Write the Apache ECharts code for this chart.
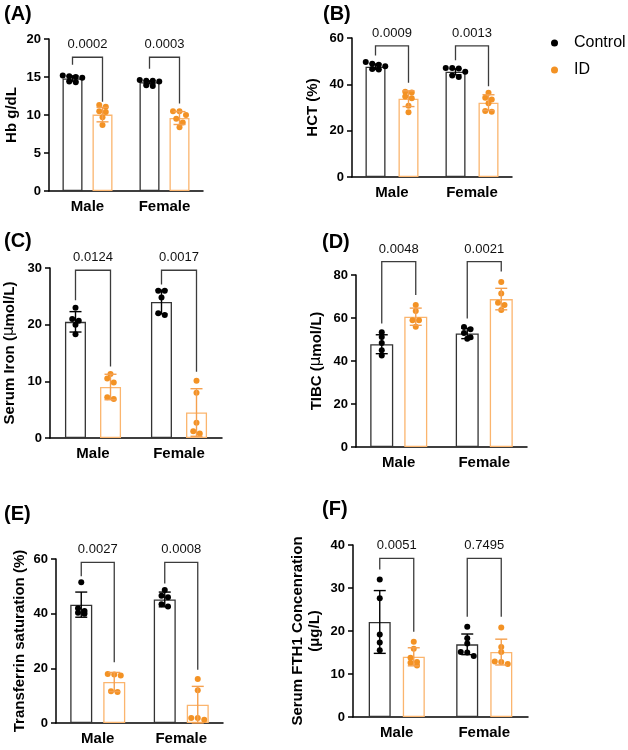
<!DOCTYPE html>
<html>
<head>
<meta charset="utf-8">
<script src="https://cdn.jsdelivr.net/npm/echarts@6/dist/echarts.min.js"></script>
<style>
  html, body { margin: 0; padding: 0; background: #fff; }
  #chart { width: 628px; height: 750px; }
</style>
</head>
<body>
<div id="chart"></div>
<script>
const groups = ["Male", "Female"];

// (A) Hb
const hbCtrlPts = [[15.2, 15.1, 15.0, 14.9, 14.4, 14.3], [14.6, 14.5, 14.5, 14.4, 13.9, 13.8]];
const hbIdPts = [[11.3, 11.1, 10.5, 10.4, 9.7, 8.7], [10.5, 10.5, 10.0, 9.5, 9.0, 8.4]];
const hbCtrlMean = [14.8, 14.3];
const hbCtrlSd = [0.35, 0.2];
const hbIdMean = [10.05, 9.6];
const hbIdSd = [0.95, 0.85];
const hbP = ["0.0002", "0.0003"];
const hbBracket = [[17.6, 16.6, 11.75], [17.6, 16.1, 11.5]];

// (B) HCT
const hctCtrlPts = [[49.6, 48.9, 48.5, 47.8, 46.6, 46.4], [47.0, 47.0, 46.8, 45.4, 43.8, 43.2]];
const hctIdPts = [[36.8, 36.5, 34.8, 34.0, 30.8, 28.0], [36.4, 34.2, 33.5, 31.8, 28.5, 28.2]];
const hctCtrlMean = [47.6, 45.4];
const hctCtrlSd = [1.2, 1.3];
const hctIdMean = [33.8, 32.1];
const hctIdSd = [3.4, 3.4];
const hctP = ["0.0009", "0.0013"];
const hctBracket = [[56.6, 52.5, 40.7], [56.6, 50.4, 39.2]];

// (C) Serum iron
const ironCtrlPts = [[23.0, 21.0, 20.7, 20.0, 18.3], [26.0, 26.0, 24.8, 22.0, 21.7]];
const ironIdPts = [[11.3, 10.5, 9.8, 7.2, 6.9], [10.1, 8.0, 2.7, 1.2, 0.8]];
const ironCtrlMean = [20.5, 24.0];
const ironCtrlSd = [1.8, 2.1];
const ironIdMean = [9.0, 4.5];
const ironIdSd = [2.25, 4.2];
const ironP = ["0.0124", "0.0017"];
const ironBracket = [[29.6, 24.3, 12.6], [29.6, 27.1, 11.7]];

// (D) TIBC
const tibcCtrlPts = [[53.4, 51.2, 48.4, 45.0, 42.6], [55.8, 54.8, 53.0, 51.0, 50.3]];
const tibcIdPts = [[66.0, 63.3, 59.0, 59.0, 55.9], [76.7, 71.4, 67.1, 66.1, 63.7]];
const tibcCtrlMean = [47.8, 52.8];
const tibcCtrlSd = [4.4, 2.4];
const tibcIdMean = [60.6, 68.8];
const tibcIdSd = [4.0, 5.0];
const tibcP = ["0.0048", "0.0021"];
const tibcBracket = [[86.2, 57.4, 70.7], [86.2, 59.8, 81.6]];

// (E) Transferrin saturation
const tsatCtrlPts = [[51.5, 42.0, 41.0, 40.3, 40.0], [48.7, 46.6, 46.0, 43.4, 42.6]];
const tsatIdPts = [[17.9, 17.7, 17.4, 11.6, 11.3], [16.1, 12.0, 1.8, 1.8, 1.2]];
const tsatCtrlMean = [43.3, 45.2];
const tsatCtrlSd = [4.6, 2.7];
const tsatIdMean = [15.0, 6.7];
const tsatIdSd = [3.5, 6.7];
const tsatP = ["0.0027", "0.0008"];
const tsatBracket = [[58.8, 53.7, 22.2], [58.8, 51.0, 19.5]];

// (F) Serum FTH1
const fthCtrlPts = [[32.0, 27.6, 19.2, 17.3, 15.5], [21.0, 18.3, 17.1, 15.1, 15.0, 14.2]];
const fthIdPts = [[17.5, 15.9, 13.8, 12.8, 12.6, 12.0], [20.8, 16.3, 15.1, 12.9, 12.8, 12.3]];
const fthCtrlMean = [22.1, 16.9];
const fthCtrlSd = [7.3, 2.4];
const fthIdMean = [14.0, 15.1];
const fthIdSd = [2.1, 3.0];
const fthP = ["0.0051", "0.7495"];
const fthBracket = [[36.9, 34.3, 19.8], [36.9, 23.3, 23.3]];

const FONT = "'Liberation Sans', Arial, sans-serif";
const ORANGE = "#F39224";
const ORANGE_ERR = "#F5A04E";
const ORANGE_BAR = "#FBB56E";
const BRACKET = "#3c3c3c";
const DOT_R = 3;
const DOT_STEP = 6.5;
const DOT_ROW = 4.5;

const panels = [
  { label: "(A)", lx: 4, ly: 4, grid: { left: 49, top: 39, width: 154, height: 152 }, max: 20, interval: 5,
    name: "Hb g/dL", nameGap: 29, bw: 20, gap: 10,
    ctrlPts: hbCtrlPts, idPts: hbIdPts, ctrlMean: hbCtrlMean, ctrlSd: hbCtrlSd,
    idMean: hbIdMean, idSd: hbIdSd, p: hbP, bracket: hbBracket },
  { label: "(B)", lx: 323, ly: 4, grid: { left: 352, top: 38, width: 160, height: 139 }, max: 60, interval: 20,
    name: "HCT (%)", nameGap: 31, bw: 20, gap: 13,
    ctrlPts: hctCtrlPts, idPts: hctIdPts, ctrlMean: hctCtrlMean, ctrlSd: hctCtrlSd,
    idMean: hctIdMean, idSd: hctIdSd, p: hctP, bracket: hctBracket },
  { label: "(C)", lx: 4, ly: 231, grid: { left: 50, top: 268, width: 172, height: 170 }, max: 30, interval: 10,
    name: "Serum Iron ({mu|μ}mol/L)", nameGap: 32, bw: 21, gap: 14,
    ctrlPts: ironCtrlPts, idPts: ironIdPts, ctrlMean: ironCtrlMean, ctrlSd: ironCtrlSd,
    idMean: ironIdMean, idSd: ironIdSd, p: ironP, bracket: ironBracket },
  { label: "(D)", lx: 322, ly: 232, grid: { left: 356, top: 275, width: 171, height: 172 }, max: 80, interval: 20,
    name: "TIBC ({mu|μ}mol/L)", nameGap: 31, bw: 23, gap: 11,
    ctrlPts: tibcCtrlPts, idPts: tibcIdPts, ctrlMean: tibcCtrlMean, ctrlSd: tibcCtrlSd,
    idMean: tibcIdMean, idSd: tibcIdSd, p: tibcP, bracket: tibcBracket },
  { label: "(E)", lx: 4, ly: 504, grid: { left: 56, top: 559, width: 167, height: 164 }, max: 60, interval: 20,
    name: "Transferrin saturation (%)", nameGap: 28, bw: 22, gap: 11,
    ctrlPts: tsatCtrlPts, idPts: tsatIdPts, ctrlMean: tsatCtrlMean, ctrlSd: tsatCtrlSd,
    idMean: tsatIdMean, idSd: tsatIdSd, p: tsatP, bracket: tsatBracket },
  { label: "(F)", lx: 322, ly: 499, grid: { left: 353, top: 545, width: 175, height: 172 }, max: 40, interval: 10,
    name: "Serum FTH1 Concenration\n(μg/L)", nameGap: 30, bw: 22, gap: 12,
    ctrlPts: fthCtrlPts, idPts: fthIdPts, ctrlMean: fthCtrlMean, ctrlSd: fthCtrlSd,
    idMean: fthIdMean, idSd: fthIdSd, p: fthP, bracket: fthBracket }
];

// spread points sideways when values sit close together (GraphPad-style)
function swarm(ys) {
  const sorted = ys.slice().sort((a, b) => a - b);
  const out = [];
  let row = [];
  const flush = () => {
    row.forEach((py, j) => out.push([(j - (row.length - 1) / 2) * DOT_STEP, py]));
    row = [];
  };
  sorted.forEach((py) => {
    if (row.length && (py - row[0] > DOT_ROW || row.length >= 4)) flush();
    row.push(py);
  });
  flush();
  return out;
}

function seg(x1, y1, x2, y2, color, w) {
  return { type: "line", shape: { x1, y1, x2, y2 }, style: { stroke: color, lineWidth: w || 1.4 } };
}

function makeRender(p) {
  return function (params, api) {
    const k = params.dataIndex;
    const cx = api.coord([k, 0])[0];
    const off = (p.bw + p.gap) / 2;
    const y = (v) => api.coord([k, v])[1];
    const kids = [];
    const sides = [
      { x: cx - off, pts: p.ctrlPts[k], mean: p.ctrlMean[k], sd: p.ctrlSd[k], err: "#000", dot: "#000" },
      { x: cx + off, pts: p.idPts[k], mean: p.idMean[k], sd: p.idSd[k], err: ORANGE_ERR, dot: ORANGE }
    ];
    sides.forEach((s) => {
      const yt = y(s.mean + s.sd);
      const yb = y(Math.max(s.mean - s.sd, 0));
      swarm(s.pts.map(y)).forEach(([dx, py]) => {
        kids.push({ type: "circle", shape: { cx: s.x + dx, cy: py, r: DOT_R }, style: { fill: s.dot } });
      });
      kids.push(seg(s.x, yt, s.x, yb, s.err));
      kids.push(seg(s.x - 6, yt, s.x + 6, yt, s.err));
      kids.push(seg(s.x - 6, yb, s.x + 6, yb, s.err));
    });
    const b = p.bracket[k];
    const yTop = y(b[0]);
    kids.push({
      type: "polyline",
      shape: { points: [[cx - off, y(b[1])], [cx - off, yTop], [cx + off, yTop], [cx + off, y(b[2])]] },
      style: { stroke: BRACKET, lineWidth: 1.3, fill: null }
    });
    kids.push({
      type: "text",
      x: cx, y: yTop - 6,
      style: { text: p.p[k], fontSize: 13, fontFamily: FONT, fill: "#111", align: "center", verticalAlign: "bottom" }
    });
    return { type: "group", children: kids };
  };
}

const chart = echarts.init(document.getElementById("chart"));

const option = {
  backgroundColor: "#fff",
  animation: false,
  title: panels.map((p) => ({
    text: p.label, left: p.lx, top: p.ly, padding: 0,
    textStyle: { fontSize: 20, fontWeight: "bold", color: "#000", fontFamily: FONT }
  })),
  legend: {
    orient: "vertical", left: 551, top: 35, padding: 0, itemWidth: 7, itemHeight: 7, itemGap: 11,
    icon: "circle",
    textStyle: { fontSize: 16, color: "#000", fontFamily: FONT, padding: [0, 0, 0, 11] },
    data: [
      { name: "Control", itemStyle: { color: "#000", borderWidth: 0 } },
      { name: "ID", itemStyle: { color: ORANGE, borderWidth: 0 } }
    ],
    selectedMode: false
  },
  grid: panels.map((p) => p.grid),
  xAxis: panels.map((p, i) => ({
    type: "category", gridIndex: i, data: groups,
    axisLine: { lineStyle: { color: "#000", width: 1.5 } },
    axisTick: { alignWithLabel: true, length: 5, lineStyle: { color: "#000", width: 1.5 } },
    axisLabel: { fontSize: 15, fontWeight: "bold", color: "#000", fontFamily: FONT, margin: 8 }
  })),
  yAxis: panels.map((p, i) => ({
    type: "value", gridIndex: i, min: 0, max: p.max, interval: p.interval,
    splitLine: { show: false },
    axisLine: { show: true, lineStyle: { color: "#000", width: 1.5 } },
    axisTick: { show: true, length: 5, lineStyle: { color: "#000", width: 1.5 } },
    axisLabel: { fontSize: 13, fontWeight: "bold", color: "#000", fontFamily: FONT, margin: 8 },
    name: p.name, nameLocation: "middle", nameGap: p.nameGap,
    nameTextStyle: {
      fontSize: 15, fontWeight: "bold", color: "#000", fontFamily: FONT, lineHeight: 17,
      rich: { mu: { fontWeight: "normal", fontSize: 15, fontFamily: "'DejaVu Sans', sans-serif" } }
    }
  })),
  series: []
};

panels.forEach((p, i) => {
  const barGap = Math.round((p.gap / p.bw) * 100) + "%";
  option.series.push({
    type: "bar", name: "Control", xAxisIndex: i, yAxisIndex: i, data: p.ctrlMean,
    barWidth: p.bw, barGap: barGap, silent: true,
    itemStyle: { color: "#fff", borderColor: "#333", borderWidth: 1.3 }
  });
  option.series.push({
    type: "bar", name: "ID", xAxisIndex: i, yAxisIndex: i, data: p.idMean,
    barWidth: p.bw, barGap: barGap, silent: true,
    itemStyle: { color: "#fff", borderColor: ORANGE_BAR, borderWidth: 1.3 }
  });
  option.series.push({
    type: "custom", xAxisIndex: i, yAxisIndex: i, silent: true, z: 5,
    data: groups.map((g, k) => [k, 0]),
    encode: { x: 0, y: 1 },
    renderItem: makeRender(p)
  });
});

chart.setOption(option);
</script>
</body>
</html>
